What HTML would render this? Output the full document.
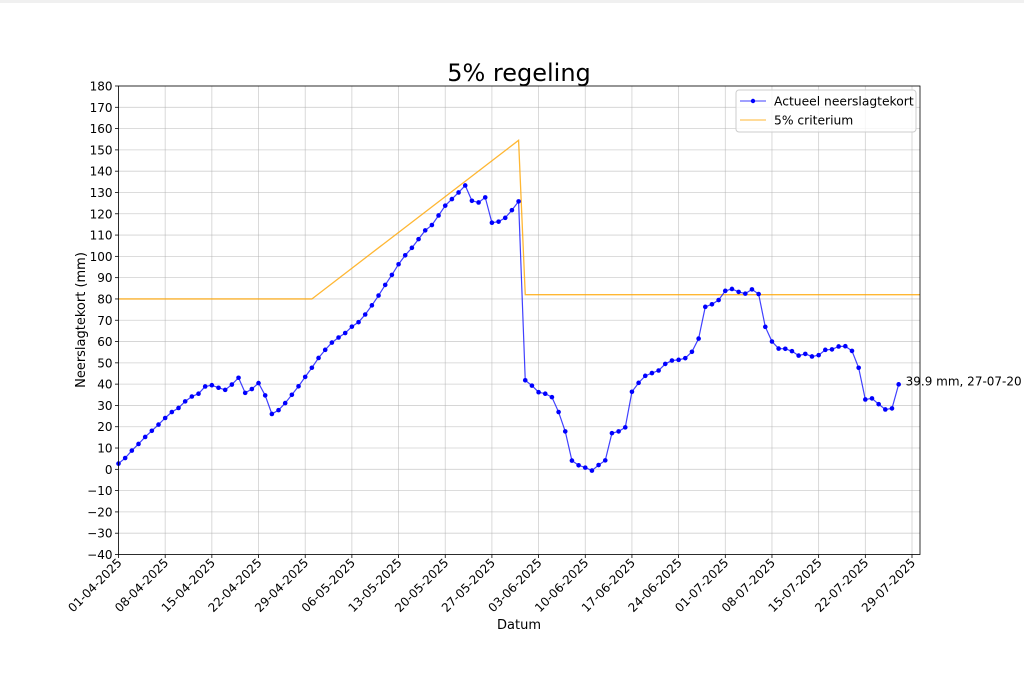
<!DOCTYPE html>
<html><head><meta charset="utf-8"><style>
html,body{margin:0;padding:0;background:#fff;width:1024px;height:687px;overflow:hidden}
svg{font-family:"DejaVu Sans","Liberation Sans",sans-serif}
</style></head><body>
<div style="position:absolute;left:0;top:0;width:1024px;height:3px;background:#f0f0f0"></div>
<svg id="chart" width="1024" height="687">
<text x="519" y="81" font-size="24" text-anchor="middle" fill="#000">5% regeling</text>
<g id="grid"></g><g id="series"></g><g id="axes"></g>
<text x="519" y="629" font-size="13" text-anchor="middle">Datum</text>
<text transform="translate(85,320) rotate(-90)" font-size="13" text-anchor="middle">Neerslagtekort (mm)</text>
<g>
<rect x="736" y="90" width="180" height="42" rx="3" fill="#fff" fill-opacity="0.8" stroke="#ccc"/>
<line x1="740" y1="101" x2="766" y2="101" stroke="#0000ff" stroke-opacity="0.75"/>
<circle cx="753" cy="101" r="2.2" fill="#0000ff"/>
<text x="774" y="105.5" font-size="12.3">Actueel neerslagtekort</text>
<line x1="740" y1="120" x2="766" y2="120" stroke="#ffa500" stroke-opacity="0.8"/>
<text x="774" y="124.5" font-size="12.3">5% criterium</text>
</g>
</svg>
<script>
const actual = [2.7,5.3,8.8,11.9,15.2,18.1,21,24.1,26.9,28.8,31.9,34.2,35.5,38.9,39.5,38.3,37.3,39.8,43,35.9,37.7,40.5,34.7,26,27.8,31.1,35,39,43.4,47.7,52.3,56.1,59.5,61.9,64,67,69.1,72.7,77,81.6,86.6,91.3,96.3,100.5,104,108.1,112.2,114.7,119.2,123.8,126.9,130,133.3,126.1,125.3,127.7,115.8,116.3,118.1,121.7,125.8,41.8,39.3,36.2,35.5,33.9,26.9,17.8,4.1,1.9,0.8,-0.6,2,4.2,17,17.8,19.7,36.4,40.6,43.9,45.2,46.4,49.5,51.1,51.4,52.2,55.2,61.4,76.3,77.5,79.5,83.8,84.7,83.3,82.5,84.5,82.3,66.9,60,56.7,56.6,55.5,53.4,54.2,53,53.6,56.1,56.3,57.7,57.8,55.6,47.7,32.8,33.3,30.6,28.1,28.6,39.9];
const critDays = [0,29,60,61,120.5];
const critVals = [80,80,154.5,82,82];
const yTicks = [-40,-30,-20,-10,0,10,20,30,40,50,60,70,80,90,100,110,120,130,140,150,160,170,180];
const xTickLabels = ["01-04-2025","08-04-2025","15-04-2025","22-04-2025","29-04-2025","06-05-2025","13-05-2025","20-05-2025","27-05-2025","03-06-2025","10-06-2025","17-06-2025","24-06-2025","01-07-2025","08-07-2025","15-07-2025","22-07-2025","29-07-2025"];
const annotation = "39.9 mm, 27-07-20";

const L=118.5,R=920,T=86,B=554.5,DPX=6.668;
const xs=d=>Math.min(R,L+d*DPX);
const ys=v=>B-(v+40)*(B-T)/220;
const NS="http://www.w3.org/2000/svg";
function mk(tag,attrs,parent){const e=document.createElementNS(NS,tag);for(const k in attrs)e.setAttribute(k,attrs[k]);parent.appendChild(e);return e;}
const grid=document.getElementById('grid'),ser=document.getElementById('series'),ax=document.getElementById('axes');
yTicks.forEach(v=>{
  const y=ys(v);
  const g=mk('line',{x1:L,x2:R,y1:y,y2:y,stroke:'#b0b0b0','stroke-opacity':0.6,'stroke-width':0.8},grid);
  
  
  const t=mk('line',{x1:L-3.5,x2:L,y1:y,y2:y,stroke:'#000','stroke-width':0.8},ax);
  
  
  const tx=mk('text',{x:L-6,y:y+4.5,'font-size':12,'text-anchor':'end'},ax);
  tx.textContent=String(v).replace('-','\u2212');
  
  
});
xTickLabels.forEach((lab,i)=>{
  const x=xs(i*7);
  const g=mk('line',{x1:x,x2:x,y1:T,y2:B,stroke:'#b0b0b0','stroke-opacity':0.6,'stroke-width':0.8},grid);
  
  
  const t=mk('line',{x1:x,x2:x,y1:B,y2:B+3.5,stroke:'#000','stroke-width':0.8},ax);
  
  
  const tx=mk('text',{x:x+4,y:B+9,'font-size':12,'text-anchor':'end',transform:`rotate(-45 ${x+4} ${B+9})`},ax);
  tx.textContent=lab;
  
  
});
const frame=mk('rect',{x:L,y:T,width:R-L,height:B-T,fill:'none',stroke:'#000','stroke-width':0.8},ax);


const cl=mk('polyline',{points:critDays.map((d,i)=>xs(d)+','+ys(critVals[i])).join(' '),fill:'none',stroke:'#ffa500','stroke-opacity':0.8,'stroke-width':1.3},ser);


const al=mk('polyline',{points:actual.map((v,i)=>xs(i)+','+ys(v)).join(' '),fill:'none',stroke:'#0000ff','stroke-opacity':0.75,'stroke-width':1.2},ser);


actual.forEach((v,i)=>{
  const c=mk('circle',{cx:xs(i),cy:ys(v),r:2.3,fill:'#0000ff'},ser);
  
  
});
const last=actual.length-1;
const an=mk('text',{x:xs(last)+7,y:ys(actual[last])+1,'font-size':12},ser);
an.textContent=annotation;


</script>
</body></html>
